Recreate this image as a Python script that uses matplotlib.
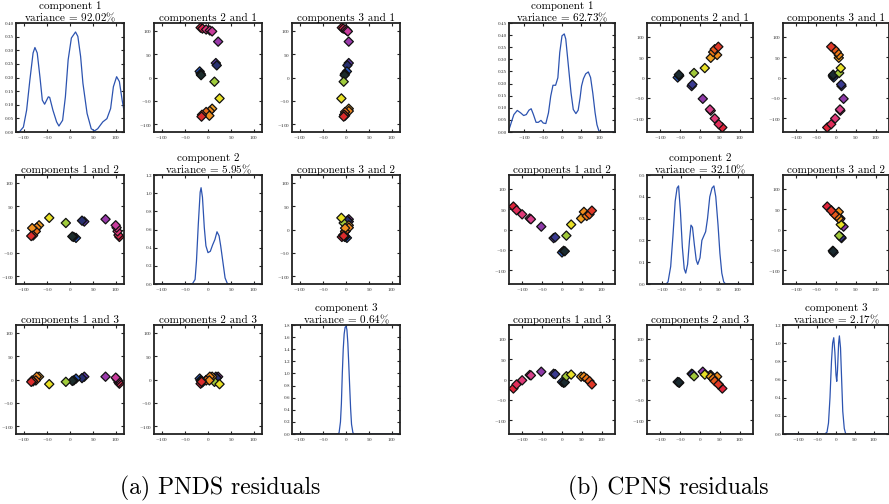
import numpy as np
import matplotlib
matplotlib.use("Agg")
import matplotlib.pyplot as plt
from matplotlib.ticker import FormatStrFormatter

plt.rcParams['font.family'] = 'cmr10'
plt.rcParams['mathtext.fontset'] = 'cm'
plt.rcParams['axes.formatter.use_mathtext'] = True

# ---- PNDS residuals (left): component scores per sample
pnds_c1 = [107, 105, 103, 101, 99, 77, 31, 26, 13, 8, 5, -9, -45, -67, -72, -74, -82, -80, -84]
pnds_c2 = [-16, -12, -4, 4, 9, 22, 17, 19, -18, -16, -15, 14, 25, 9, 4, -4, 3, -13, -14]
pnds_c3 = [-9, -6, -1, 2, 4, 6, 6, 3, 2, -2, -3, -5, -10, 6, 6, -2, -2, -4, -5]
pnds_colors = ['#e01e3c', '#e02a55', '#e0357a', '#e03c8c', '#c83c9c', '#9a3aaa', '#5a38a2',
               '#283070', '#2a58c0', '#102028', '#1c2c2c', '#a0cc3c', '#e8e024', '#f0a028',
               '#f08820', '#e86c1c', '#f09020', '#e04420', '#dc2c2c']
pnds_var = ['92.02', '5.95', '0.64']

# density curves
pnds_d1_x = [-117, -109, -101, -94, -87, -80, -76, -71, -65, -60, -55, -47, -44, -37, -29, -24, -16,
             -10, -4, 3, 12, 17, 23, 28, 37, 46, 53, 60, 71, 80, 88, 94, 101, 107, 113, 118]
pnds_d1_y = [0.0, 0.002, 0.018, 0.08, 0.19, 0.29, 0.31, 0.29, 0.20, 0.117, 0.102, 0.129, 0.127,
             0.08, 0.037, 0.022, 0.043, 0.129, 0.265, 0.345, 0.367, 0.351, 0.277, 0.179, 0.068,
             0.012, 0.004, 0.012, 0.037, 0.049, 0.086, 0.166, 0.203, 0.185, 0.117, 0.068]
pnds_d2_x = [-117, -34, -28, -25, -21, -17, -15, -12, -8, -4.5, 0, 5, 10, 15, 19.5, 24, 27.5, 33,
             37, 42, 45, 117]
pnds_d2_y = [0.0, 0.0, 0.05, 0.25, 0.66, 1.01, 1.06, 0.955, 0.62, 0.42, 0.345, 0.36, 0.43, 0.49,
             0.575, 0.53, 0.42, 0.215, 0.067, 0.004, 0.0, 0.0]
pnds_d3_x = [-117, -18, -15, -12, -10, -8, -6, -4, -2, 0, 2, 4, 6, 8, 10, 12, 15, 18, 117]
pnds_d3_y = [0.0, 0.0, 0.02, 0.2, 0.5, 1.0, 1.4, 1.65, 1.76, 1.78, 1.72, 1.5, 1.15, 0.78, 0.42,
             0.16, 0.02, 0.0, 0.0]

# ---- CPNS residuals (right)
cpns_c1 = [-122, -114, -100, -81, -78, -52, -21, -17, 0, 4, 7, 11, 23, 48, 55, 62, 69, 75]
cpns_c2 = [56, 47, 37, 27, 25, 7, -21, -19, -56, -52, -53, -15, 12, 27, 43, 33, 37, 46]
cpns_c3 = [-22, -12, -2, 11, 10, 19, 14, 13, -6, -8, -7, 8, 12, 7, 7, 2, -4, -12]
cpns_colors = ['#e0243a', '#e02e5a', '#e03a78', '#d03a8e', '#d8408a', '#8e3aa8', '#4e3a9e',
               '#3a3a90', '#2c5cc0', '#102030', '#1a2a30', '#a0c83a', '#e8e028', '#f0a020',
               '#f08c1c', '#f07818', '#e85a1c', '#e03828']
cpns_var = ['62.73', '32.10', '2.17']

cpns_d1_x = [-141, -138, -134, -128, -119, -110, -102, -95, -88, -82, -76, -69, -63, -56, -50,
             -43, -36, -30, -24, -17, -11, -6, 0, 6, 10, 17, 24, 30, 37, 43, 48, 52, 57, 63, 70,
             76, 82, 88, 93, 98, 103, 141]
cpns_d1_y = [0.01, 0.024, 0.044, 0.072, 0.089, 0.079, 0.068, 0.072, 0.09, 0.096, 0.072, 0.04,
             0.04, 0.048, 0.037, 0.035, 0.079, 0.148, 0.193, 0.193, 0.224, 0.328, 0.397, 0.405,
             0.384, 0.273, 0.162, 0.093, 0.076, 0.09, 0.14, 0.19, 0.22, 0.24, 0.248, 0.225, 0.16,
             0.08, 0.03, 0.005, 0.0, 0.0]
cpns_d2_x = [-141, -90, -85, -78, -72, -66, -61, -57, -52, -47, -42, -38, -33, -28, -24, -20,
             -15, -10, -6, 0, 5, 10, 15, 20, 26, 32, 37, 42, 48, 53, 58, 63, 68, 141]
cpns_d2_y = [0.0, 0.0, 0.01, 0.08, 0.22, 0.38, 0.44, 0.45, 0.33, 0.17, 0.07, 0.05, 0.09, 0.2,
             0.27, 0.26, 0.18, 0.11, 0.09, 0.12, 0.2, 0.22, 0.24, 0.3, 0.4, 0.44, 0.45, 0.40,
             0.27, 0.14, 0.05, 0.01, 0.0, 0.0]
cpns_d3_x = [-141, -30, -24, -20, -16, -12, -9, -6, -3, 0, 2, 4, 7, 9, 12, 15, 18, 22, 26, 141]
cpns_d3_y = [0.0, 0.0, 0.02, 0.12, 0.4, 0.8, 1.0, 1.06, 0.9, 0.65, 0.58, 0.7, 1.0, 1.08, 0.95,
             0.6, 0.25, 0.06, 0.0, 0.0]

W, H = 889, 504
fig = plt.figure(figsize=(W / 100, H / 100), dpi=100)

LINE = '#2c53b0'
SPINE = '#222222'


def px_axes(x, y, w, h):
    return fig.add_axes([x / W, 1 - (y + h) / H, w / W, h / H])


def style(ax):
    for s in ax.spines.values():
        s.set_linewidth(1.3)
        s.set_color(SPINE)
    ax.tick_params(direction='in', top=True, right=True, length=2.5, width=0.8,
                   labelsize=3.6, pad=1.5, colors=SPINE)
    ax.set_xticks([-100, -50, 0, 50, 100])


def draw_group(cols, rows, w, comps, colors, dens, var, slim, dlim, ytops, ysteps, yfmts):
    for r in range(3):
        for c in range(3):
            ax = px_axes(cols[c], rows[r], w, 109)
            style(ax)
            if r == c:
                dx, dy = dens[r]
                ax.plot(dx, dy, color=LINE, lw=0.9)
                ax.set_xlim(-dlim, dlim)
                ax.set_ylim(0, ytops[r])
                ax.set_yticks(np.arange(0, ytops[r] + 1e-9, ysteps[r]))
                ax.yaxis.set_major_formatter(FormatStrFormatter(yfmts[r]))
                ax.set_title('component %d\nvariance = %s$\\%%$' % (r + 1, var[r]),
                             fontsize=8, pad=1.5, linespacing=0.95)
            else:
                ax.scatter(comps[c], comps[r], c=colors, marker='D', s=22,
                           edgecolors='#111111', linewidths=0.9, zorder=3)
                ax.set_xlim(-slim, slim)
                ax.set_ylim(-slim, slim)
                ax.set_yticks([-100, -50, 0, 50, 100])
                ax.set_title('components %d and %d' % (c + 1, r + 1), fontsize=8, pad=1.5)


draw_group([16, 154, 292], [23, 175, 325], 108,
           [pnds_c1, pnds_c2, pnds_c3], pnds_colors,
           [(pnds_d1_x, pnds_d1_y), (pnds_d2_x, pnds_d2_y), (pnds_d3_x, pnds_d3_y)],
           pnds_var, 117, 117, [0.40, 1.2, 1.8], [0.05, 0.2, 0.2], ['%.2f', '%.1f', '%.1f'])

draw_group([509, 647, 783], [23, 175, 325], 106,
           [cpns_c1, cpns_c2, cpns_c3], cpns_colors,
           [(cpns_d1_x, cpns_d1_y), (cpns_d2_x, cpns_d2_y), (cpns_d3_x, cpns_d3_y)],
           cpns_var, 133, 141, [0.45, 0.5, 1.2], [0.05, 0.1, 0.2], ['%.2f', '%.1f', '%.1f'])

fig.text(220 / W, 1 - 488 / H, '(a) PNDS residuals', ha='center', va='center', fontsize=17)
fig.text(668 / W, 1 - 488 / H, '(b) CPNS residuals', ha='center', va='center', fontsize=17)

fig.savefig('out.png', dpi=100)
